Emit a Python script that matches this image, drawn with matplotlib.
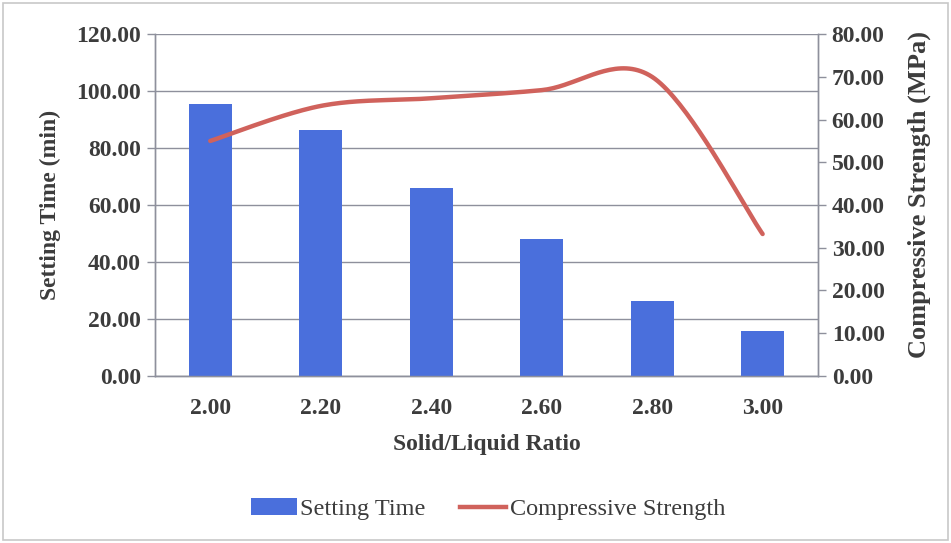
import numpy as np
import matplotlib
matplotlib.use('Agg')
import matplotlib.pyplot as plt
from matplotlib.patches import Patch, Rectangle
from matplotlib.lines import Line2D

ratios = ['2.00', '2.20', '2.40', '2.60', '2.80', '3.00']
setting_time = [95.4, 86.3, 65.9, 48.1, 26.3, 15.9]
compressive_strength = [55.0, 63.2, 65.0, 66.9, 70.0, 33.2]

BAR_BLUE = '#4a6fdc'
LINE_RED = '#d0625c'
TEXT = '#3c3c3c'
GRID = '#8e909c'

plt.rcParams['font.family'] = ['Liberation Serif', 'DejaVu Serif']


# Catmull-Rom style smoothing, like a spreadsheet "smoothed line"
def smooth(xs, ys, n=40):
    pts = np.column_stack([xs, ys]).astype(float)
    padded = np.vstack([pts[0], pts, pts[-1]])
    out = []
    for i in range(len(pts) - 1):
        p0, p1, p2, p3 = padded[i], padded[i + 1], padded[i + 2], padded[i + 3]
        c1 = p1 + (p2 - p0) / 6
        c2 = p2 - (p3 - p1) / 6
        t = np.linspace(0, 1, n)[:, None]
        seg = ((1 - t) ** 3) * p1 + 3 * ((1 - t) ** 2) * t * c1 + 3 * (1 - t) * t ** 2 * c2 + t ** 3 * p2
        out.append(seg if i == 0 else seg[1:])
    seg = np.vstack(out)
    return seg[:, 0], seg[:, 1]


fig = plt.figure(figsize=(9.51, 5.43), dpi=100)
ax = fig.add_axes([0.163, 0.308, 0.697, 0.629])
ax2 = ax.twinx()

x = np.arange(len(ratios))
ax.bar(x, setting_time, width=0.39, color=BAR_BLUE, zorder=3)
ax.set_xlim(-0.5, len(ratios) - 0.5)
ax.set_ylim(0, 120)
ax.set_yticks(np.arange(0, 121, 20))
ax.set_yticklabels([f'{v:.2f}' for v in np.arange(0, 121, 20)])
ax.set_xticks(x)
ax.set_xticklabels(ratios)
ax.grid(axis='y', color=GRID, linewidth=1.0, zorder=0)
ax.set_axisbelow(True)

sx, sy = smooth(x, compressive_strength)
ax2.plot(sx, sy, color=LINE_RED, linewidth=3.2, solid_capstyle='round', zorder=4)
ax2.set_ylim(0, 80)
ax2.set_yticks(np.arange(0, 81, 10))
ax2.set_yticklabels([f'{v:.2f}' for v in np.arange(0, 81, 10)])

for a in (ax, ax2):
    for s in a.spines.values():
        s.set_color(GRID)
        s.set_linewidth(1.0)
    a.spines['top'].set_visible(False)
    a.tick_params(axis='y', colors=GRID, labelcolor=TEXT, labelsize=17, length=6, width=1, pad=4)
    for lbl in a.get_yticklabels():
        lbl.set_fontweight('bold')
ax.tick_params(axis='x', length=0, labelsize=17, labelcolor=TEXT, pad=16)
for lbl in ax.get_xticklabels():
    lbl.set_fontweight('bold')

ax.set_xlabel('Solid/Liquid Ratio', fontsize=17, fontweight='bold', color=TEXT)
ax.xaxis.set_label_coords(0.5, -0.2)
ax.xaxis.label.set_va('center')
ax.set_ylabel('Setting Time (min)', fontsize=17, fontweight='bold', color=TEXT)
ax.yaxis.set_label_coords(-0.158, 0.5)
ax.yaxis.label.set_va('center')
ax2.set_ylabel('Compressive Strength (MPa)', fontsize=19, fontweight='bold', color=TEXT)
ax2.yaxis.set_label_coords(1.153, 0.53)
ax2.yaxis.label.set_va('center')

handles = [Patch(facecolor=BAR_BLUE, edgecolor='none'),
           Line2D([0], [0], color=LINE_RED, linewidth=3.2)]
fig.legend(handles, ['Setting Time', 'Compressive Strength'], loc='center',
           bbox_to_anchor=(0.513, 0.062), ncol=2, frameon=False, fontsize=17.5,
           handlelength=1.9, handletextpad=0.15, columnspacing=1.4,
           labelcolor=TEXT)

# thin frame around the whole chart area
fig.patches.append(Rectangle((0.003, 0.005), 0.994, 0.99, transform=fig.transFigure,
                             fill=False, edgecolor='#c8c8c8', linewidth=1.2))

fig.savefig('out.png', dpi=100)
